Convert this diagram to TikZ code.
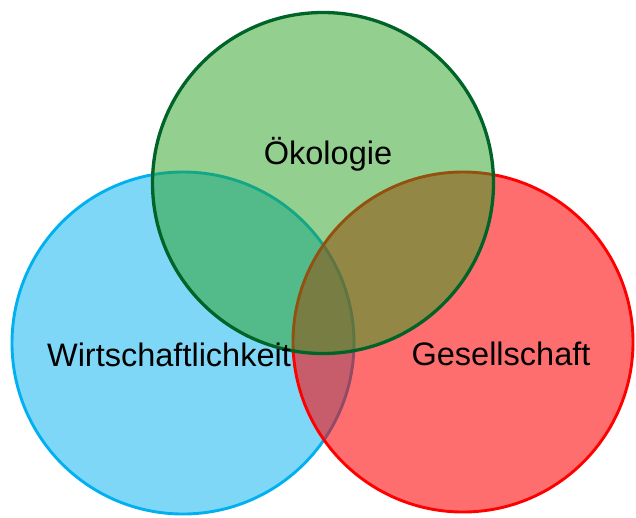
\documentclass[tikz,border=0pt]{standalone}
\usepackage{fontspec}
\setmainfont{Liberation Sans}
\definecolor{cblue}{RGB}{0,176,240}
\definecolor{cred}{RGB}{255,0,0}
\definecolor{cgreenfill}{RGB}{40,160,30}
\definecolor{cgreenline}{RGB}{0,100,40}
\tikzset{
  setcircle/.style={circle, minimum size=#1, inner sep=0pt, line width=2.9pt},
  lbl/.style={anchor=base, font=\fontsize{32.5}{38}\selectfont, text=black}
}
\begin{document}
\begin{tikzpicture}[x=1pt,y=-1pt]
\useasboundingbox (0,0) rectangle (636,517);
\node[setcircle=342pt, draw=cblue, fill=cblue, fill opacity=0.5, draw opacity=1] (wirt) at (183,343) {};
\node[setcircle=340pt, draw=cred, fill=cred, fill opacity=0.57, draw opacity=1] (ges) at (463,342) {};
\node[setcircle=341pt, draw=cgreenline, fill=cgreenfill, fill opacity=0.5, draw opacity=1, line width=3.3pt] (oek) at (323,183) {};
\node[lbl] (toek) at (328,164) {Ökologie};
\node[lbl] (twirt) at (169,366) {Wirtschaftlichkeit};
\node[lbl] (tges) at (501,365) {Gesellschaft};
\end{tikzpicture}
\end{document}
